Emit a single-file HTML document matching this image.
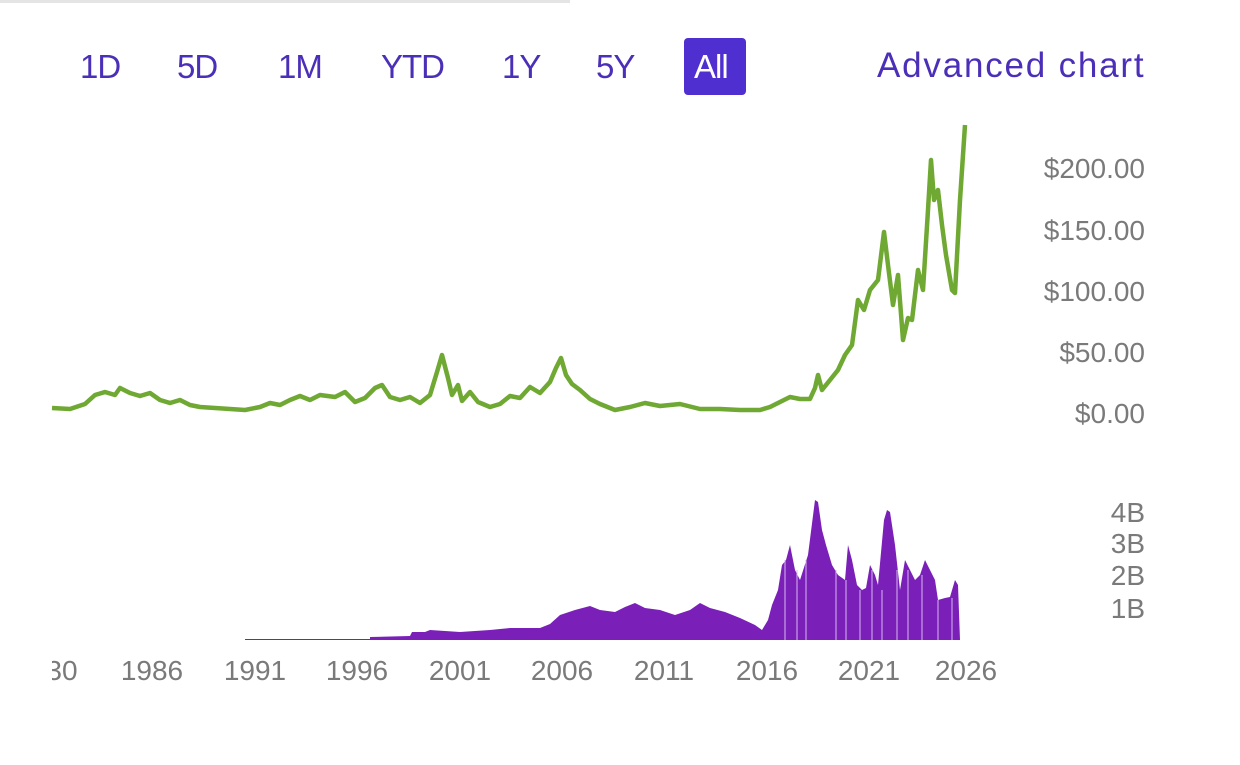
<!DOCTYPE html>
<html><head><style>
body{margin:0;background:#fff;width:1240px;height:765px;overflow:hidden;font-family:"Liberation Sans",sans-serif;}
.t{position:absolute;top:48px;font-size:33px;color:#4b2fb8;letter-spacing:-1px}
</style></head><body>
<div style="position:absolute;left:0;top:0;width:570px;height:3px;background:#e4e4e4"></div>
<div class="t" style="left:80px">1D</div>
<div class="t" style="left:177px">5D</div>
<div class="t" style="left:278px">1M</div>
<div class="t" style="left:381px">YTD</div>
<div class="t" style="left:502px">1Y</div>
<div class="t" style="left:596px">5Y</div>
<div style="position:absolute;left:684px;top:38px;width:62px;height:57px;background:#4f2fd0;border-radius:4px"></div>
<div class="t" style="left:694px;color:#fff">All</div>
<div class="t" style="left:877px;font-size:35px;letter-spacing:1.8px;top:46px">Advanced chart</div>
<svg width="1240" height="765" style="position:absolute;left:0;top:0" font-family="Liberation Sans, sans-serif">
<g font-size="28" fill="#7a7a7a" text-anchor="end">
<text x="1145" y="178">$200.00</text><text x="1145" y="240">$150.00</text><text x="1145" y="301">$100.00</text><text x="1145" y="362">$50.00</text><text x="1145" y="423">$0.00</text>
<text x="1145" y="522">4B</text><text x="1145" y="553">3B</text><text x="1145" y="585">2B</text><text x="1145" y="618">1B</text>
</g>
<g font-size="28" fill="#7a7a7a" text-anchor="middle">
<text x="62" y="680">30</text><text x="152" y="680">1986</text><text x="255" y="680">1991</text><text x="357" y="680">1996</text><text x="460" y="680">2001</text><text x="562" y="680">2006</text><text x="664" y="680">2011</text><text x="767" y="680">2016</text><text x="869" y="680">2021</text><text x="966" y="680">2026</text>
</g>
<rect x="0" y="650" width="52" height="40" fill="#fff"/>
<rect x="999" y="650" width="30" height="40" fill="#fff"/>
<polyline fill="none" stroke="#6fa832" stroke-width="4.5" stroke-linejoin="round" points="52,408 70,409 85,404 95,395 105,392 115,395 120,388 130,393 140,396 150,393 160,400 170,403 180,400 190,405 200,407 215,408 230,409 245,410 260,407 270,403 280,405 290,400 300,396 310,400 320,395 335,397 345,392 355,402 365,398 375,388 382,385 390,397 400,400 410,397 420,403 430,395 437,372 442,355 448,378 452,395 458,385 462,401 470,392 478,402 490,407 500,404 510,396 520,398 530,387 540,393 550,382 556,368 561,358 566,375 572,384 580,390 590,399 600,404 615,410 630,407 645,403 660,406 680,404 700,409 720,409 740,410 760,410 770,407 780,402 790,397 800,399 810,399 815,388 818,375 822,390 830,380 838,370 845,355 852,345 858,300 864,310 870,290 878,280 884,232 888,265 893,305 898,275 903,340 908,318 912,320 918,270 923,290 928,210 931,160 934,200 938,190 942,225 946,255 952,290 955,293 960,200 965,125"/>
<polygon fill="#7a1fb8" points="165,640 245,640 245,639 370,639 370,637 410,636 412,632 425,632 430,630 460,632 490,630 510,628 540,628 550,624 560,615 575,610 590,606 600,610 615,612 625,607 635,603 645,608 660,610 675,615 690,610 700,603 710,608 725,612 740,618 755,625 762,630 768,620 772,605 778,590 782,565 786,560 790,545 795,570 800,580 808,555 815,500 818,502 822,530 826,545 832,565 838,575 845,580 848,545 852,560 857,585 862,590 866,588 870,565 875,575 878,585 884,520 887,510 890,512 895,545 900,590 905,560 910,570 915,580 920,575 925,560 930,570 935,580 938,600 945,598 950,597 955,580 958,585 960,640"/>
<g stroke="#d9b8f0" stroke-width="1">
<line x1="785" y1="560" x2="785" y2="640"/><line x1="797" y1="570" x2="797" y2="640"/><line x1="806" y1="560" x2="806" y2="640"/><line x1="836" y1="570" x2="836" y2="640"/><line x1="846" y1="580" x2="846" y2="640"/><line x1="860" y1="590" x2="860" y2="640"/><line x1="872" y1="570" x2="872" y2="640"/><line x1="882" y1="590" x2="882" y2="640"/><line x1="897" y1="570" x2="897" y2="640"/><line x1="908" y1="570" x2="908" y2="640"/><line x1="922" y1="575" x2="922" y2="640"/><line x1="938" y1="600" x2="938" y2="640"/><line x1="952" y1="598" x2="952" y2="640"/>
</g>
</svg>
</body></html>
